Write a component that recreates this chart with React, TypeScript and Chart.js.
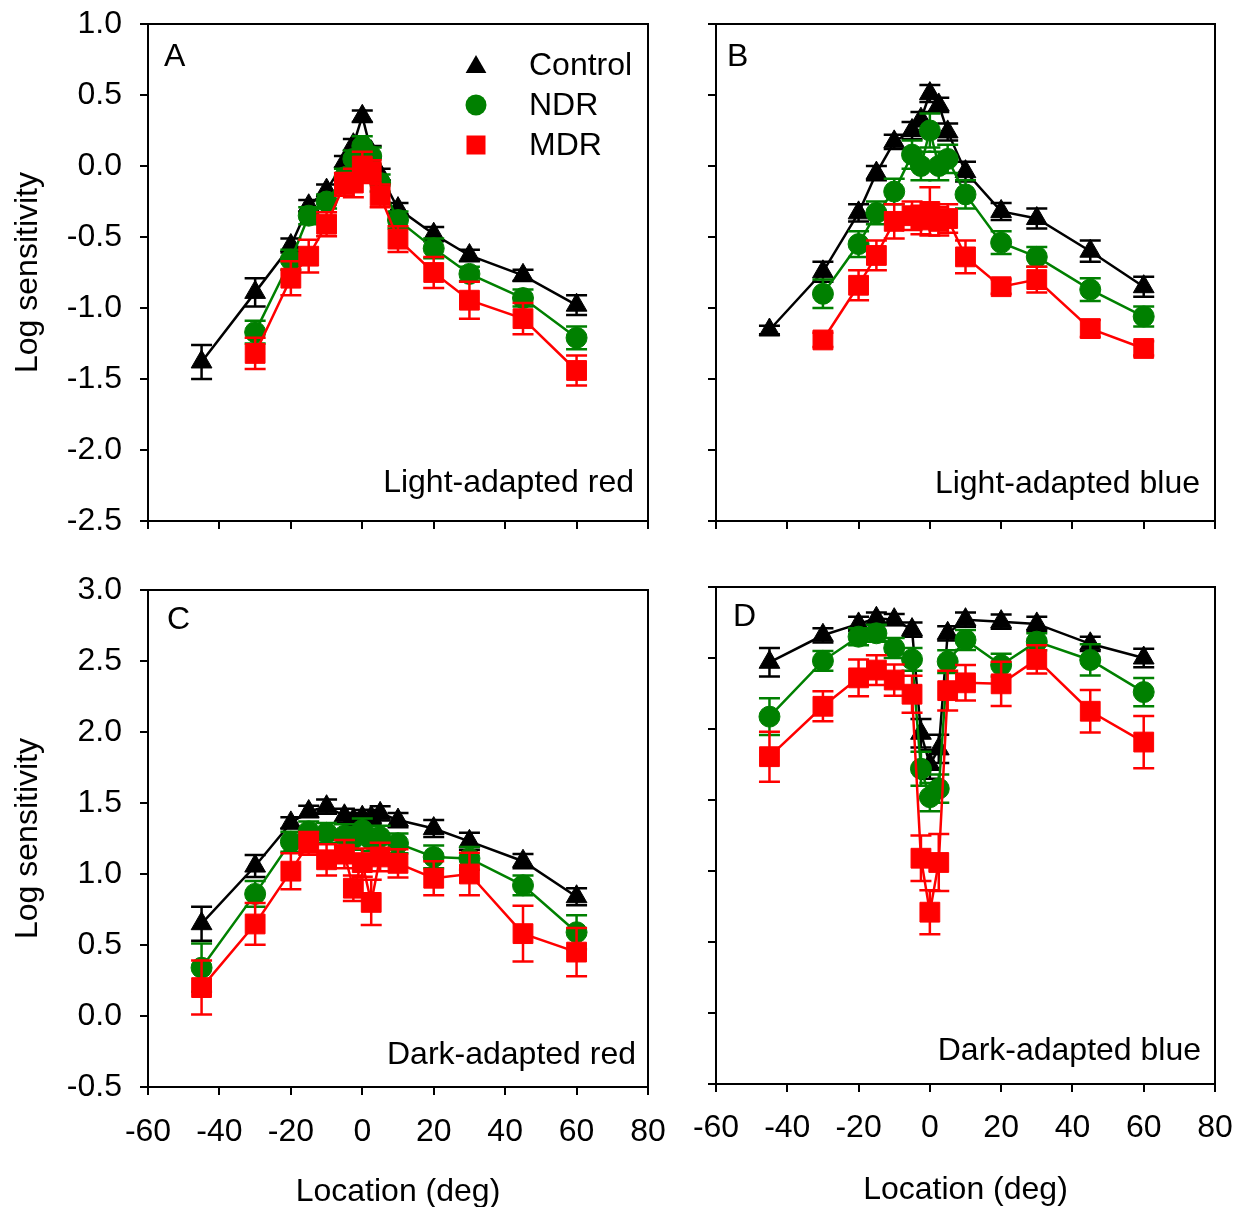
import React, { useEffect, useRef } from 'react';
import { Chart, registerables } from 'chart.js';

Chart.register(...registerables);

const FONT_FAMILY = '"Liberation Sans", Arial, Helvetica, sans-serif';
const FONT_SIZE = 32;
const BLACK = '#000000';
const GREEN = '#008000';
const RED = '#ff0000';

// ---------- data ----------
const locations = [-45, -30, -20, -15, -10, -5, -2.5, 0, 2.5, 5, 10, 20, 30, 45, 60];
const xTickValues = [-60, -40, -20, 0, 20, 40, 60, 80];
const yTicksLight = [-2.5, -2.0, -1.5, -1.0, -0.5, 0.0, 0.5, 1.0];
const yTicksDark = [-0.5, 0.0, 0.5, 1.0, 1.5, 2.0, 2.5, 3.0];
const seriesNames = ['Control', 'NDR', 'MDR'];

// Panel A: light-adapted red
const controlA = [-1.38, -0.89, -0.56, -0.28, -0.17, 0.03, 0.15, 0.35, 0.1, -0.06, -0.3, -0.48, -0.63, -0.77, -0.98];
const controlAErr = [0.12, 0.1, 0.05, 0.04, 0.04, 0.04, 0.04, 0.04, 0.04, 0.04, 0.04, 0.05, 0.04, 0.04, 0.07];
const ndrA = [null, -1.17, -0.66, -0.35, -0.25, -0.08, 0.05, 0.14, 0.07, -0.12, -0.38, -0.58, -0.76, -0.93, -1.21];
const ndrAErr = [0, 0.08, 0.07, 0.06, 0.05, 0.06, 0.06, 0.07, 0.06, 0.06, 0.06, 0.07, 0.05, 0.06, 0.08];
const mdrA = [null, -1.32, -0.79, -0.635, -0.41, -0.13, -0.12, 0.0, -0.04, -0.21, -0.515, -0.75, -0.945, -1.075, -1.44];
const mdrAErr = [0, 0.11, 0.12, 0.115, 0.085, 0.08, 0.1, 0.1, 0.08, 0.08, 0.09, 0.11, 0.13, 0.11, 0.105];

// Panel B: light-adapted blue
const controlB = [-1.155, -0.745, -0.33, -0.05, 0.17, 0.25, 0.33, 0.51, 0.43, 0.24, -0.04, -0.32, -0.37, -0.6, -0.85];
const controlBErr = [0.03, 0.07, 0.06, 0.05, 0.05, 0.06, 0.05, 0.06, 0.05, 0.06, 0.07, 0.06, 0.07, 0.075, 0.07];
const ndrB = [null, -0.9, -0.55, -0.33, -0.18, 0.08, 0.0, 0.25, 0.0, 0.05, -0.2, -0.54, -0.64, -0.87, -1.06];
const ndrBErr = [0, 0.1, 0.09, 0.08, 0.09, 0.1, 0.1, 0.12, 0.1, 0.1, 0.1, 0.08, 0.07, 0.08, 0.07];
const mdrB = [null, -1.225, -0.84, -0.63, -0.39, -0.35, -0.38, -0.32, -0.39, -0.37, -0.64, -0.85, -0.8, -1.145, -1.285];
const mdrBErr = [0, 0.05, 0.105, 0.105, 0.12, 0.1, 0.1, 0.17, 0.1, 0.1, 0.115, 0.05, 0.09, 0.06, 0.05];

// Panel C: dark-adapted red
const controlC = [0.65, 1.056, 1.36, 1.44, 1.474, 1.41, 1.38, 1.4, 1.4, 1.427, 1.38, 1.32, 1.23, 1.09, 0.84];
const controlCErr = [0.12, 0.077, 0.04, 0.04, 0.05, 0.05, 0.05, 0.05, 0.05, 0.05, 0.05, 0.06, 0.06, 0.05, 0.06];
const ndrC = [0.34, 0.86, 1.227, 1.3, 1.29, 1.27, 1.25, 1.31, 1.24, 1.26, 1.216, 1.12, 1.11, 0.92, 0.59];
const ndrCErr = [0.17, 0.09, 0.07, 0.07, 0.07, 0.08, 0.08, 0.08, 0.08, 0.08, 0.07, 0.08, 0.08, 0.07, 0.12];
const mdrC = [0.2, 0.648, 1.02, 1.216, 1.1, 1.14, 0.9, 1.08, 0.8, 1.12, 1.075, 0.97, 1.0, 0.58, 0.45];
const mdrCErr = [0.19, 0.147, 0.127, 0.08, 0.11, 0.1, 0.09, 0.1, 0.16, 0.1, 0.1, 0.12, 0.15, 0.197, 0.17];

// Panel D: dark-adapted blue
const controlD = [2.47, 2.66, 2.74, 2.78, 2.77, 2.7, 1.97, 1.75, 1.86, 2.674, 2.77, 2.756, 2.74, 2.6, 2.5];
const controlDErr = [0.1, 0.05, 0.05, 0.04, 0.04, 0.05, 0.1, 0.1, 0.1, 0.05, 0.05, 0.05, 0.05, 0.05, 0.065];
const ndrD = [2.087, 2.48, 2.65, 2.674, 2.57, 2.49, 1.72, 1.52, 1.58, 2.475, 2.627, 2.45, 2.615, 2.486, 2.26];
const ndrDErr = [0.13, 0.07, 0.06, 0.06, 0.07, 0.08, 0.12, 0.1, 0.1, 0.08, 0.07, 0.08, 0.06, 0.11, 0.1];
const mdrD = [1.805, 2.16, 2.36, 2.415, 2.345, 2.245, 1.09, 0.71, 1.06, 2.27, 2.325, 2.318, 2.49, 2.125, 1.908];
const mdrDErr = [0.176, 0.105, 0.13, 0.105, 0.11, 0.13, 0.16, 0.155, 0.2, 0.14, 0.125, 0.156, 0.1, 0.15, 0.184];

// ---------- panel layout ----------
interface PanelDef {
  letter: string;
  label: string;
  left: number;
  top: number;
  width: number;
  height: number;
  pad: { left: number; top: number; right: number; bottom: number };
  yWidth: number;
  xHeight: number;
  showYLabels: boolean;
  showXLabels: boolean;
  xTickPad: number;
  xTitlePadBottom: number;
  yTicks: number[];
  control: (number | null)[];
  controlErr: number[];
  ndr: (number | null)[];
  ndrErr: number[];
  mdr: (number | null)[];
  mdrErr: number[];
  letterDx: number;
  letterDy: number;
  labelDx: number;
  labelDy: number;
  legend: boolean;
}

const panels: PanelDef[] = [
  {
    letter: 'A', label: 'Light-adapted red', left: 0, top: 0, width: 690, height: 560,
    pad: { left: 0, top: 24, right: 42, bottom: 19 }, yWidth: 148, xHeight: 20,
    showYLabels: true, showXLabels: false, xTickPad: 18, xTitlePadBottom: 0, yTicks: yTicksLight,
    control: controlA, controlErr: controlAErr, ndr: ndrA, ndrErr: ndrAErr, mdr: mdrA, mdrErr: mdrAErr,
    letterDx: 16, letterDy: 33, labelDx: 14, labelDy: 38, legend: true,
  },
  {
    letter: 'B', label: 'Light-adapted blue', left: 690, top: 0, width: 549, height: 560,
    pad: { left: 0, top: 24, right: 24, bottom: 19 }, yWidth: 26, xHeight: 20,
    showYLabels: false, showXLabels: false, xTickPad: 18, xTitlePadBottom: 0, yTicks: yTicksLight,
    control: controlB, controlErr: controlBErr, ndr: ndrB, ndrErr: ndrBErr, mdr: mdrB, mdrErr: mdrBErr,
    letterDx: 11, letterDy: 33, labelDx: 15, labelDy: 37, legend: false,
  },
  {
    letter: 'C', label: 'Dark-adapted red', left: 0, top: 560, width: 690, height: 647,
    pad: { left: 0, top: 30, right: 42, bottom: 0 }, yWidth: 148, xHeight: 120,
    showYLabels: true, showXLabels: true, xTickPad: 18, xTitlePadBottom: -4, yTicks: yTicksDark,
    control: controlC, controlErr: controlCErr, ndr: ndrC, ndrErr: ndrCErr, mdr: mdrC, mdrErr: mdrCErr,
    letterDx: 19, letterDy: 30, labelDx: 12, labelDy: 32, legend: false,
  },
  {
    letter: 'D', label: 'Dark-adapted blue', left: 690, top: 560, width: 549, height: 647,
    pad: { left: 0, top: 27, right: 24, bottom: 0 }, yWidth: 26, xHeight: 123,
    showYLabels: false, showXLabels: true, xTickPad: 17, xTitlePadBottom: -2, yTicks: yTicksDark,
    control: controlD, controlErr: controlDErr, ndr: ndrD, ndrErr: ndrDErr, mdr: mdrD, mdrErr: mdrDErr,
    letterDx: 17, letterDy: 30, labelDx: 14, labelDy: 33, legend: false,
  },
];

// ---------- plugins ----------
const CAP_HALF = 10.5;

const errorBarPlugin = {
  id: 'errorBars',
  beforeDatasetDraw(chart: any, args: any) {
    const ds = chart.data.datasets[args.index];
    const errs: number[] | undefined = ds.errors;
    if (!errs) return;
    const xs = chart.scales.x;
    const ys = chart.scales.y;
    const ctx = chart.ctx;
    ctx.save();
    ctx.strokeStyle = ds.borderColor;
    ctx.lineWidth = 2.5;
    ds.data.forEach((pt: any, i: number) => {
      if (pt.y == null) return;
      const e = errs[i];
      if (!e) return;
      const px = xs.getPixelForValue(pt.x);
      const t = ys.getPixelForValue(pt.y + e);
      const b = ys.getPixelForValue(pt.y - e);
      ctx.beginPath();
      ctx.moveTo(px, t);
      ctx.lineTo(px, b);
      ctx.moveTo(px - CAP_HALF, t);
      ctx.lineTo(px + CAP_HALF, t);
      ctx.moveTo(px - CAP_HALF, b);
      ctx.lineTo(px + CAP_HALF, b);
      ctx.stroke();
    });
    ctx.restore();
  },
};

function drawTriangle(ctx: CanvasRenderingContext2D, cx: number, cy: number, r: number) {
  ctx.beginPath();
  ctx.moveTo(cx, cy - r);
  ctx.lineTo(cx + r * Math.sin((2 * Math.PI) / 3), cy + r / 2);
  ctx.lineTo(cx - r * Math.sin((2 * Math.PI) / 3), cy + r / 2);
  ctx.closePath();
  ctx.fill();
}

const makeAnnotationPlugin = (p: PanelDef) => ({
  id: 'annot' + p.letter,
  afterDraw(chart: any) {
    const { ctx, chartArea: a } = chart;
    ctx.save();
    ctx.strokeStyle = BLACK;
    ctx.lineWidth = 2;
    ctx.strokeRect(a.left, a.top, a.right - a.left, a.bottom - a.top);
    ctx.fillStyle = BLACK;
    ctx.font = `${FONT_SIZE}px ${FONT_FAMILY}`;
    ctx.textBaseline = 'middle';
    ctx.textAlign = 'left';
    ctx.fillText(p.letter, a.left + p.letterDx, a.top + p.letterDy);
    ctx.textAlign = 'right';
    ctx.fillText(p.label, a.right - p.labelDx, a.bottom - p.labelDy);
    if (p.legend) {
      const mx = a.left + 328;
      const tx = a.left + 381;
      const rows = [a.top + 41, a.top + 81, a.top + 121];
      // Control
      ctx.fillStyle = BLACK;
      drawTriangle(ctx, mx, rows[0] + 2, 12);
      // NDR
      ctx.fillStyle = GREEN;
      ctx.beginPath();
      ctx.arc(mx, rows[1], 10.5, 0, Math.PI * 2);
      ctx.fill();
      // MDR
      ctx.fillStyle = RED;
      ctx.fillRect(mx - 9.5, rows[2] - 9.5, 19, 19);
      ctx.fillStyle = BLACK;
      ctx.textAlign = 'left';
      seriesNames.forEach((n, i) => ctx.fillText(n, tx, rows[i] + 1));
    }
    ctx.restore();
  },
});

// ---------- config ----------
function buildConfig(p: PanelDef) {
  const font = { family: FONT_FAMILY, size: FONT_SIZE };
  const mk = (label: string, vals: (number | null)[], errs: number[], color: string, style: string, radius: number, order: number) => ({
    label,
    data: locations.map((x, i) => ({ x, y: vals[i] })),
    errors: errs,
    borderColor: color,
    backgroundColor: color,
    pointBackgroundColor: color,
    pointBorderColor: color,
    borderWidth: 2.5,
    pointStyle: style,
    pointRadius: radius,
    pointHoverRadius: radius,
    pointBorderWidth: 1,
    order,
    tension: 0,
  });
  const grid = { drawOnChartArea: false, drawTicks: true, tickLength: 8, tickWidth: 2, tickColor: BLACK, color: BLACK, lineWidth: 2 };
  const border = { display: true, color: BLACK, width: 2 };
  return {
    type: 'line',
    data: {
      datasets: [
        mk(seriesNames[0], p.control, p.controlErr, BLACK, 'triangle', 12, 3),
        mk(seriesNames[1], p.ndr, p.ndrErr, GREEN, 'circle', 10.5, 2),
        mk(seriesNames[2], p.mdr, p.mdrErr, RED, 'rect', 14, 1),
      ],
    },
    options: {
      animation: false,
      responsive: false,
      events: [],
      layout: { padding: p.pad },
      plugins: { legend: { display: false }, tooltip: { enabled: false }, title: { display: false } },
      scales: {
        x: {
          type: 'linear',
          position: 'bottom',
          min: xTickValues[0],
          max: xTickValues[xTickValues.length - 1],
          afterBuildTicks: (s: any) => { s.ticks = xTickValues.map((v) => ({ value: v })); },
          afterFit: (s: any) => {
            s.height = p.xHeight;
            s.paddingLeft = 0;
            s.paddingRight = 0;
            s.paddingTop = 0;
            s.paddingBottom = 0;
          },
          ticks: { display: p.showXLabels, font, color: BLACK, padding: p.xTickPad, maxRotation: 0, minRotation: 0, autoSkip: false, callback: (v: any) => String(v) },
          grid,
          border,
          title: { display: p.showXLabels, text: 'Location (deg)', font, color: BLACK, padding: { top: 0, bottom: p.xTitlePadBottom } },
        },
        y: {
          type: 'linear',
          position: 'left',
          min: p.yTicks[0],
          max: p.yTicks[p.yTicks.length - 1],
          afterBuildTicks: (s: any) => { s.ticks = p.yTicks.map((v) => ({ value: v })); },
          afterFit: (s: any) => {
            s.width = p.yWidth;
            s.paddingLeft = 0;
            s.paddingRight = 0;
            s.paddingTop = 0;
            s.paddingBottom = 0;
          },
          ticks: { display: p.showYLabels, font, color: BLACK, padding: 18, callback: (v: any) => Number(v).toFixed(1) },
          grid,
          border,
          title: { display: p.showYLabels, text: 'Log sensitivity', font, color: BLACK, padding: { top: 9, bottom: 0 } },
        },
      },
    },
    plugins: [errorBarPlugin, makeAnnotationPlugin(p)],
  };
}

function PanelChart({ p }: { p: PanelDef }) {
  const ref = useRef<HTMLCanvasElement | null>(null);
  useEffect(() => {
    if (!ref.current) return;
    const chart = new Chart(ref.current, buildConfig(p) as any);
    return () => chart.destroy();
  }, [p]);
  return (
    <canvas
      ref={ref}
      width={p.width}
      height={p.height}
      style={{ position: 'absolute', left: p.left, top: p.top, width: p.width, height: p.height }}
    />
  );
}

export default function App() {
  return (
    <div style={{ position: 'absolute', left: 0, top: 0, width: 1239, height: 1207, background: '#ffffff' }}>
      {panels.map((p) => (
        <PanelChart key={p.letter} p={p} />
      ))}
    </div>
  );
}
